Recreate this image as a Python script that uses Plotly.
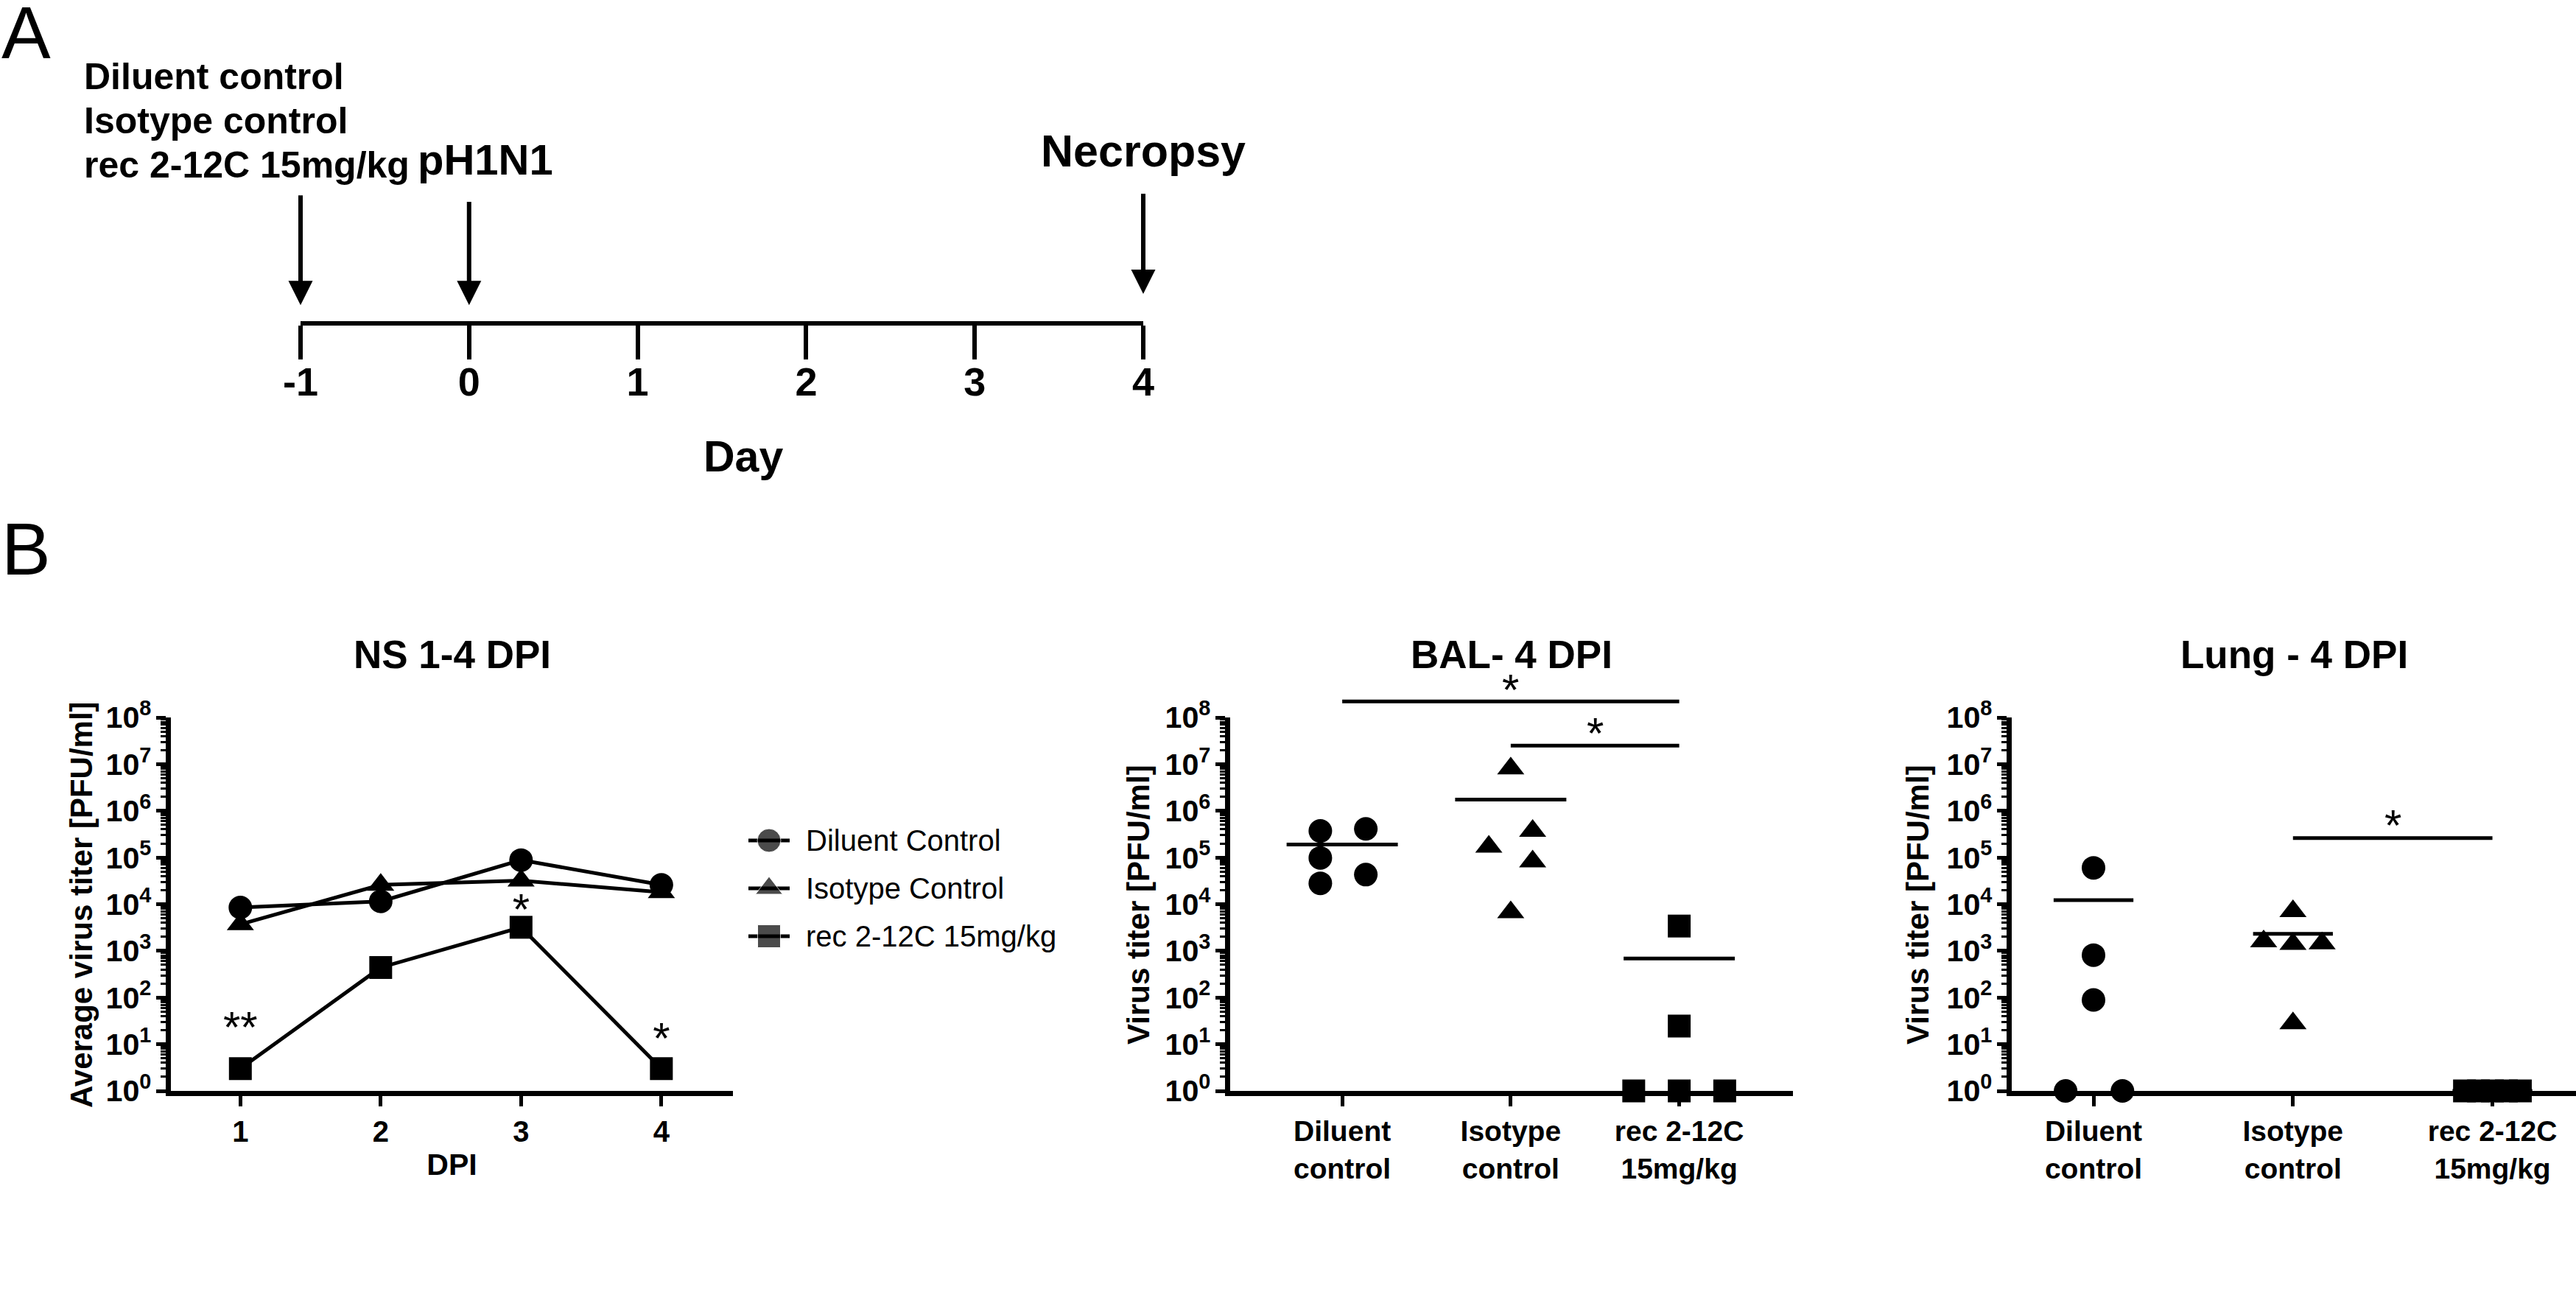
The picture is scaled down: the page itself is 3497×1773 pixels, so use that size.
import math
import plotly.graph_objects as go

W, H = 3497, 1773
FONT = "Liberation Sans, Arial, Helvetica, sans-serif"
BLACK = "black"


def px(x):
    return x / W


def py(y):
    return 1 - y / H


# ---------------- data ----------------
# Panel A: study timeline
timeline_days = [-1, 0, 1, 2, 3, 4]
timeline_ticktext = ["-1", "0", "1", "2", "3", "4"]
treatment_labels = ["Diluent control", "Isotype control", "rec 2-12C 15mg/kg"]
event_days = [-1, 0, 4]

# Panel B: NS 1-4 DPI (average titers)
group_names = ["Diluent Control", "Isotype Control", "rec 2-12C 15mg/kg"]
ns_dpi = [1, 2, 3, 4]
ns_diluent = [8.5e3, 1.15e4, 8.8e4, 2.6e4]
ns_isotype = [3.7e3, 2.6e4, 3.2e4, 1.8e4]
ns_rec = [3.0, 4.4e2, 3.2e3, 3.0]
ns_sig_dpi = [1, 3, 4]
ns_sig_text = ["**", "*", "*"]
ns_sig_level = [19, 6.3e3, 11]

# Panels B: BAL and Lung (individual animals)
categories = ["Diluent<br>control", "Isotype<br>control", "rec 2-12C<br>15mg/kg"]

bal_diluent = [3.7e5, 4.1e5, 9.8e4, 4.3e4, 2.8e4]
bal_isotype = [8.1e6, 3.7e5, 1.7e5, 8.2e4, 6.7e3]
bal_rec = [3.4e3, 24.5, 1, 1, 1]
bal_diluent_spread = [-0.13, 0.14, -0.13, 0.14, -0.13]
bal_isotype_spread = [0, 0.13, -0.13, 0.13, 0]
bal_rec_spread = [0, 0, -0.27, 0, 0.27]
bal_sig_pairs = [(0, 2), (1, 2)]
bal_sig_level = [2.2e8, 2.5e7]
bal_sig_star = [3.9e8, 4.6e7]

lung_diluent = [6.0e4, 8.1e2, 89, 1, 1]
lung_isotype = [7.1e3, 1.6e3, 1.4e3, 1.45e3, 28]
lung_rec = [1, 1, 1, 1, 1]
lung_diluent_spread = [0, 0, 0, -0.14, 0.145]
lung_isotype_spread = [0, -0.147, 0, 0.146, 0]
lung_rec_spread = [-0.14, -0.07, 0, 0.07, 0.14]
lung_sig_pairs = [(1, 2)]
lung_sig_level = [2.6e5]
lung_sig_star = [4.9e5]

# ---------------- styles ----------------
SYMBOLS = ["circle", "triangle-up", "square"]
MSIZE = [32, 32, 31]
STAR_SIZE = 60
Y_RANGE = [0, 8]
NS_XRANGE = [0.505, 4.51]
BAL_XRANGE = [-0.665, 2.675]
LUNG_XRANGE = [-0.41, 2.419]


def yfrac(v):
    return (math.log10(v) - Y_RANGE[0]) / (Y_RANGE[1] - Y_RANGE[0])


fig = go.Figure()

# ---- NS panel ----
ns_series = [ns_diluent, ns_isotype, ns_rec]
for i in [2, 1, 0]:
    fig.add_trace(go.Scatter(
        x=ns_dpi, y=ns_series[i], mode="lines+markers", name=group_names[i],
        line=dict(color=BLACK, width=5),
        marker=dict(symbol=SYMBOLS[i], size=MSIZE[i], color=BLACK),
        cliponaxis=False, showlegend=False, xaxis="x", yaxis="y"))
fig.add_trace(go.Scatter(
    x=ns_sig_dpi, y=ns_sig_level, mode="text", text=ns_sig_text,
    textfont=dict(family=FONT, size=STAR_SIZE, color=BLACK), showlegend=False,
    cliponaxis=False, xaxis="x", yaxis="y"))

# ---- legend (drawn as its own small invisible subplot) ----
legend_rows = [1, 2, 3]
for i, row in enumerate(legend_rows):
    fig.add_trace(go.Scatter(
        x=[0, 0.5, 1], y=[row] * 3, mode="lines+markers",
        line=dict(color=BLACK, width=5),
        marker=dict(symbol=SYMBOLS[i], size=[0, MSIZE[i], 0], color=BLACK),
        cliponaxis=False, showlegend=False, hoverinfo="skip",
        xaxis="x5", yaxis="y5"))


def scatter_panel(xa, ya, groups, spreads, sig_pairs, sig_level, sig_star, halfw, xrange):
    for gi, (vals, spr) in enumerate(zip(groups, spreads)):
        fig.add_trace(go.Scatter(
            x=[gi + s for s in spr], y=vals, mode="markers",
            marker=dict(symbol=SYMBOLS[gi], size=MSIZE[gi], color=BLACK),
            cliponaxis=False, showlegend=False, xaxis=xa, yaxis=ya))
        m = sum(vals) / len(vals)
        fig.add_trace(go.Scatter(
            x=[gi - halfw, gi + halfw], y=[m, m], mode="lines",
            line=dict(color=BLACK, width=5), showlegend=False,
            xaxis=xa, yaxis=ya))
    for (a, b), lvl, st in zip(sig_pairs, sig_level, sig_star):
        fa = (a - xrange[0]) / (xrange[1] - xrange[0])
        fb = (b - xrange[0]) / (xrange[1] - xrange[0])
        fy = yfrac(lvl)
        fig.add_shape(type="line", xref=xa + " domain", yref=ya + " domain",
                      x0=fa, x1=fb, y0=fy, y1=fy,
                      line=dict(color=BLACK, width=5))
        fig.add_annotation(x=(a + b) / 2, y=yfrac(st), xref=xa, yref=ya + " domain",
                           text="*", showarrow=False, xanchor="center",
                           yanchor="middle",
                           font=dict(family=FONT, size=STAR_SIZE, color=BLACK))


scatter_panel("x2", "y2", [bal_diluent, bal_isotype, bal_rec],
              [bal_diluent_spread, bal_isotype_spread, bal_rec_spread],
              bal_sig_pairs, bal_sig_level, bal_sig_star, 0.33, BAL_XRANGE)
scatter_panel("x3", "y3", [lung_diluent, lung_isotype, lung_rec],
              [lung_diluent_spread, lung_isotype_spread, lung_rec_spread],
              lung_sig_pairs, lung_sig_level, lung_sig_star, 0.2, LUNG_XRANGE)

# ---- timeline (panel A) ----
fig.add_trace(go.Scatter(x=timeline_days, y=[0] * len(timeline_days), mode="markers",
                         marker=dict(size=1, opacity=0), showlegend=False,
                         hoverinfo="skip", xaxis="x4", yaxis="y4"))
arrow_tip = [0.05, 0.05, 0.085]
arrow_tail = [0.395, 0.375, 0.40]
for d, t0, t1 in zip(event_days, arrow_tip, arrow_tail):
    fig.add_annotation(x=d, y=t0, ax=d, ay=t1, xref="x4", yref="y4",
                       axref="x4", ayref="y4", text="", showarrow=True,
                       arrowhead=2, arrowsize=1.1, arrowwidth=6, arrowcolor=BLACK)

# ---------------- axes ----------------
tick_bold = dict(family=FONT, size=33, color=BLACK, weight="bold")
ylog = dict(
    type="log", range=Y_RANGE, tickmode="linear", tick0=0, dtick=1,
    exponentformat="power", showexponent="all",
    labelalias={"1": "10<sup>0</sup>", "10": "10<sup>1</sup>"},
    ticks="outside", ticklen=13, tickwidth=5, tickcolor=BLACK,
    showline=True, linewidth=7, linecolor=BLACK, showgrid=False, zeroline=False,
    tickfont=tick_bold, automargin=False,
    minor=dict(ticks="outside", ticklen=7, tickwidth=3, tickcolor=BLACK,
               dtick="D1", showgrid=False),
)
ydom = [py(1481), py(974)]
xcommon = dict(showline=True, linewidth=7, linecolor=BLACK, showgrid=False,
               zeroline=False, ticks="outside", ticklen=14, tickwidth=5,
               tickcolor=BLACK, automargin=False)
hidden = dict(visible=False, fixedrange=True, showgrid=False, zeroline=False,
              automargin=False)

fig.update_layout(
    width=W, height=H,
    margin=dict(l=0, r=0, t=0, b=0, pad=0, autoexpand=False),
    paper_bgcolor="white", plot_bgcolor="white",
    font=dict(family=FONT, color=BLACK),
    showlegend=False,
    xaxis=dict(domain=[px(232), px(995)], range=NS_XRANGE, anchor="y",
               tickmode="array", tickvals=ns_dpi,
               tickfont=dict(family=FONT, size=40, color=BLACK, weight="bold"),
               title=dict(text="DPI", standoff=12,
                          font=dict(family=FONT, size=41, color=BLACK, weight="bold")),
               **xcommon),
    yaxis=dict(domain=ydom, anchor="x", **ylog),
    xaxis2=dict(domain=[px(1670), px(2434)], range=BAL_XRANGE, anchor="y2",
                tickmode="array", tickvals=[0, 1, 2], ticktext=categories,
                tickfont=dict(family=FONT, size=39, color=BLACK, weight="bold"),
                **xcommon),
    yaxis2=dict(domain=ydom, anchor="x2", **ylog),
    xaxis3=dict(domain=[px(2731), 1.0], range=LUNG_XRANGE, anchor="y3",
                tickmode="array", tickvals=[0, 1, 2], ticktext=categories,
                tickfont=dict(family=FONT, size=39, color=BLACK, weight="bold"),
                **xcommon),
    yaxis3=dict(domain=ydom, anchor="x3", **ylog),
    xaxis4=dict(domain=[px(408), px(1552)], range=[-1, 4], anchor="y4",
                tickmode="array", tickvals=timeline_days, ticktext=timeline_ticktext,
                showline=True, linewidth=6, linecolor=BLACK, showgrid=False,
                zeroline=False, ticks="outside", ticklen=46, tickwidth=6,
                tickcolor=BLACK, automargin=False, ticklabelstandoff=-16,
                tickfont=dict(family=FONT, size=54, color=BLACK, weight="bold")),
    yaxis4=dict(domain=[py(436), 1.0], range=[0, 1], anchor="x4", **hidden),
    xaxis5=dict(domain=[px(1016), px(1072)], range=[0, 1], anchor="y5", **hidden),
    yaxis5=dict(domain=[py(1303.5), py(1108.5)], range=[3.5, 0.5], anchor="x5", **hidden),
)

# ---------------- text annotations ----------------
def ann(text, x, y, size, bold=True, xanchor="center", yanchor="middle", angle=0,
        xref="paper", yref="paper"):
    fig.add_annotation(text=text, x=x, y=y, xref=xref, yref=yref, showarrow=False,
                       xanchor=xanchor, yanchor=yanchor, textangle=angle,
                       font=dict(family=FONT, size=size, color=BLACK,
                                 weight="bold" if bold else "normal"))


ann("A", 0, py(44), 100, bold=False, xanchor="left")
ann("B", 0, py(745), 100, bold=False, xanchor="left")

for lbl, yy in zip(treatment_labels, [104, 164, 224]):
    ann(lbl, px(112), py(yy), 50, xanchor="left")
ann("pH1N1", px(659), py(216), 58)
ann("Necropsy", px(1552), py(205), 61)
ann("Day", px(1009), py(620), 59)

ann("NS 1-4 DPI", 0.5, py(888), 53, xref="x domain")
ann("BAL- 4 DPI", 0.5, py(888), 53, xref="x2 domain")
ann("Lung - 4 DPI", 0.5, py(888), 53, xref="x3 domain")

ann("Average virus titer [PFU/ml]", px(110), py(1228), 42, angle=-90)
ann("Virus titer [PFU/ml]", px(1545), py(1228), 42, angle=-90)
ann("Virus titer [PFU/ml]", px(2603), py(1228), 42, angle=-90)

for name, row in zip(group_names, legend_rows):
    ann(name, px(1092), row, 40, bold=False, xanchor="left", yref="y5")

fig.write_html("out.html", config={"displayModeBar": False},
               post_script="document.body.style.margin='0px';")
